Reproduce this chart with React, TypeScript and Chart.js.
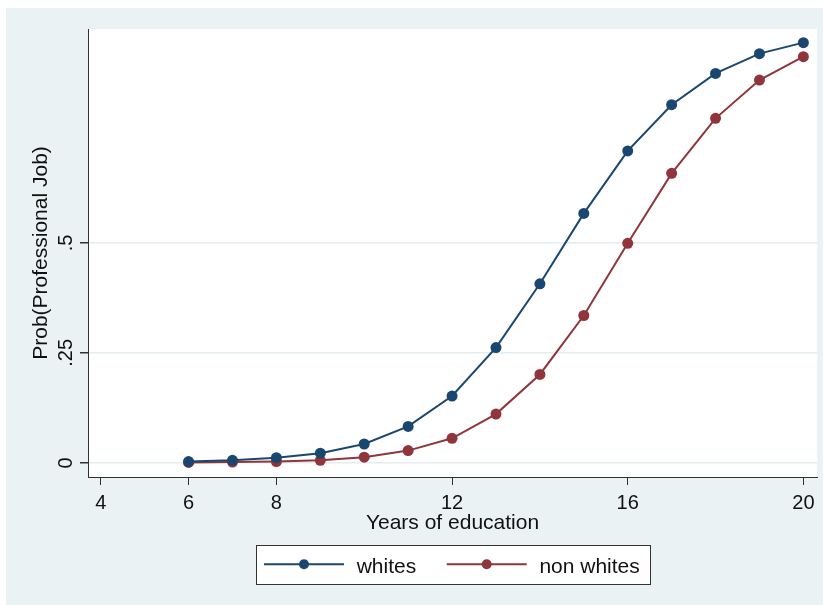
import React, { useEffect, useRef } from 'react';
import { Chart, registerables } from 'chart.js';

Chart.register(...registerables);

const years = [6, 7, 8, 9, 10, 11, 12, 13, 14, 15, 16, 17, 18, 19, 20];
const whites = [0.003, 0.006, 0.012, 0.022, 0.043, 0.083, 0.152, 0.262, 0.407, 0.567, 0.709, 0.814, 0.885, 0.930, 0.955];
const nonWhites = [0.001, 0.002, 0.003, 0.006, 0.013, 0.028, 0.056, 0.111, 0.201, 0.335, 0.499, 0.658, 0.783, 0.870, 0.923];
const xTicks = [4, 6, 8, 12, 16, 20];
const xTickLabels = ['4', '6', '8', '12', '16', '20'];
const yTicks = [0, 0.25, 0.5];
const yTickLabels = ['0', '.25', '.5'];
const seriesNames = ['whites', 'non whites'];
const xTitle = 'Years of education';
const yTitle = 'Prob(Professional Job)';

const BLUE = '#1a476f';
const RED = '#90353b';
const BG = '#eaf2f3';
const AXIS = '#333333';
const TEXT = '#111111';
const FONT = '"Liberation Sans", Arial, Helvetica, sans-serif';

const stataPlugin = {
  id: 'stataLook',
  beforeDraw(chart: any) {
    const { ctx, width, height, chartArea } = chart;
    ctx.save();
    ctx.fillStyle = BG;
    ctx.fillRect(0, 0, width, height);
    ctx.fillStyle = '#ffffff';
    ctx.fillRect(chartArea.left, chartArea.top, chartArea.right - chartArea.left, chartArea.bottom - chartArea.top);
    ctx.restore();
  },
  afterDraw(chart: any) {
    const { ctx, chartArea } = chart;
    const xs = chart.scales.x;
    const ys = chart.scales.y;
    ctx.save();
    ctx.fillStyle = TEXT;
    // x tick labels
    ctx.font = `20px ${FONT}`;
    ctx.textAlign = 'center';
    ctx.textBaseline = 'alphabetic';
    xTicks.forEach((v, i) => {
      ctx.fillText(xTickLabels[i], xs.getPixelForValue(v), chartArea.bottom + 32);
    });
    // y tick labels (rotated)
    yTicks.forEach((v, i) => {
      ctx.save();
      ctx.translate(66, ys.getPixelForValue(v));
      ctx.rotate(-Math.PI / 2);
      ctx.textAlign = 'center';
      ctx.textBaseline = 'alphabetic';
      ctx.fillText(yTickLabels[i], 0, 0);
      ctx.restore();
    });
    // axis titles
    ctx.font = `21px ${FONT}`;
    ctx.textAlign = 'center';
    ctx.fillText(xTitle, (chartArea.left + chartArea.right) / 2, chartArea.bottom + 52);
    ctx.save();
    ctx.translate(41, (chartArea.top + chartArea.bottom) / 2);
    ctx.rotate(-Math.PI / 2);
    ctx.fillText(yTitle, 0, 0);
    ctx.restore();
    // legend
    const boxW = 394;
    const boxH = 39;
    const cx = (chartArea.left + chartArea.right) / 2;
    const bx = Math.round(cx - boxW / 2);
    const by = 537;
    ctx.fillStyle = '#ffffff';
    ctx.fillRect(bx, by, boxW, boxH);
    ctx.strokeStyle = AXIS;
    ctx.lineWidth = 1;
    ctx.strokeRect(bx + 0.5, by + 0.5, boxW, boxH);
    const colors = [BLUE, RED];
    const offsets = [8, 190.7];
    const my = by + 19.3;
    seriesNames.forEach((name, i) => {
      const x0 = bx + offsets[i];
      ctx.strokeStyle = colors[i];
      ctx.lineWidth = 2;
      ctx.beginPath();
      ctx.moveTo(x0, my);
      ctx.lineTo(x0 + 80, my);
      ctx.stroke();
      ctx.fillStyle = colors[i];
      ctx.beginPath();
      ctx.arc(x0 + 40, my, 5, 0, Math.PI * 2);
      ctx.fill();
      ctx.fillStyle = TEXT;
      ctx.font = `21px ${FONT}`;
      ctx.textAlign = 'left';
      ctx.textBaseline = 'alphabetic';
      ctx.fillText(name, x0 + 92.7, by + 27.7);
    });
    ctx.restore();
  },
};

export default function App() {
  const ref = useRef<HTMLCanvasElement>(null);
  useEffect(() => {
    const chart = new Chart(ref.current as HTMLCanvasElement, {
      type: 'line',
      data: {
        datasets: [
          {
            label: seriesNames[0],
            data: years.map((x, i) => ({ x, y: whites[i] })),
            borderColor: BLUE,
            backgroundColor: BLUE,
            borderWidth: 2,
            pointRadius: 5.5,
            pointBorderWidth: 0,
            tension: 0,
            clip: false as any,
          },
          {
            label: seriesNames[1],
            data: years.map((x, i) => ({ x, y: nonWhites[i] })),
            borderColor: RED,
            backgroundColor: RED,
            borderWidth: 2,
            pointRadius: 5.5,
            pointBorderWidth: 0,
            tension: 0,
            clip: false as any,
          },
        ],
      },
      options: {
        animation: false,
        responsive: false,
        devicePixelRatio: 1,
        layout: { autoPadding: false, padding: { left: 0, right: 6, top: 21, bottom: 0 } } as any,
        plugins: { legend: { display: false }, tooltip: { enabled: false } },
        events: [],
        scales: {
          x: {
            type: 'linear',
            min: 3.71,
            max: 20.31,
            afterBuildTicks: (s: any) => {
              s.ticks = xTicks.map((v) => ({ value: v }));
            },
            afterFit: (s: any) => {
              s.height = 128;
            },
            ticks: { display: false },
            grid: { drawOnChartArea: false, drawTicks: true, tickLength: 8, tickColor: AXIS, lineWidth: 1 },
            border: { display: true, color: AXIS, width: 1 },
          },
          y: {
            type: 'linear',
            min: -0.032,
            max: 0.986,
            afterBuildTicks: (s: any) => {
              s.ticks = yTicks.map((v) => ({ value: v }));
            },
            afterFit: (s: any) => {
              s.width = 82;
            },
            ticks: { display: false },
            grid: { color: '#e4ecee', lineWidth: 1.5, drawTicks: true, tickLength: 8, tickColor: AXIS },
            border: { display: true, color: AXIS, width: 1 },
          },
        },
      } as any,
      plugins: [stataPlugin],
    });
    return () => chart.destroy();
  }, []);
  return (
    <div style={{ position: 'fixed', left: 0, top: 0, width: 823, height: 605, background: '#ffffff' }}>
      <canvas
        ref={ref}
        width={817}
        height={597}
        style={{ position: 'absolute', left: 6, top: 8, width: 817, height: 597 }}
      />
    </div>
  );
}
